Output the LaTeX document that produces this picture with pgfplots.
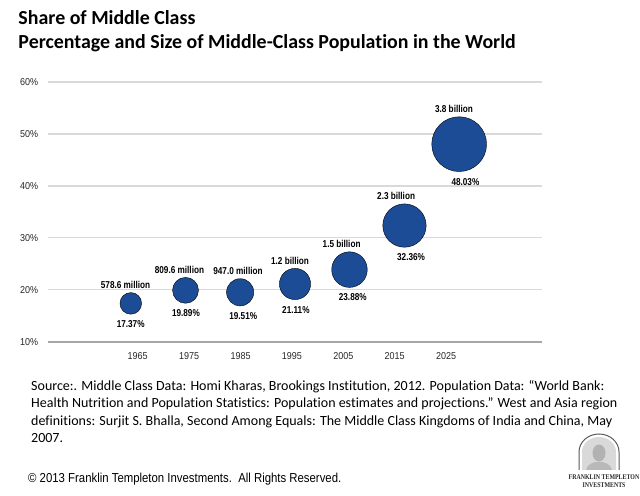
\documentclass[border=0pt]{standalone}
\usepackage{pgfplots}
\pgfplotsset{compat=1.18}
\usepackage{pgfplotstable}
\usepackage{fontspec}
\setmainfont{Liberation Sans}
\newfontfamily\calibri[Ligatures=NoCommon]{Carlito}
\newfontfamily\arialn[FakeStretch=0.82]{Liberation Sans}
\newfontfamily\arialt[FakeStretch=0.9]{Liberation Sans}
\newfontfamily\arialc[FakeStretch=0.875]{Liberation Sans}
\newfontfamily\serifb[FakeStretch=0.82]{Liberation Serif}
\definecolor{bub}{RGB}{29,76,151}
\definecolor{gridc}{RGB}{217,217,217}
\definecolor{axc}{RGB}{166,166,166}
\definecolor{txt}{RGB}{38,38,38}

\pgfplotstableread[col sep=comma]{
x,y,r,pop,dxa,dxb
1963.65,17.37,10.85,578.6 million,-5.3,-0.1
1974.3,19.89,13.0,809.6 million,-6.1,0.4
1984.93,19.51,13.65,947.0 million,-2.2,3.1
1995.6,21.11,15.65,1.2 billion,-5.0,0.9
2006.2,23.88,17.85,1.5 billion,-7.9,3.3
2016.9,32.36,21.75,2.3 billion,-8.4,6.6
2027.54,48.03,27.5,3.8 billion,-5.2,6.3
}\datatable

\begin{document}
\begin{tikzpicture}[x=1bp,y=1bp]
\path (0,0) rectangle (640,496);
% title
\node[anchor=base west, inner sep=0, font=\calibri\bfseries\fontsize{19.9bp}{24bp}\selectfont] at (18.3,471) {Share of Middle Class};
\node[anchor=base west, inner sep=0, font=\calibri\bfseries\fontsize{19.9bp}{24bp}\selectfont] at (18.3,447.7) {Percentage and Size of Middle-Class Population in the World};

\begin{axis}[
  at={(48.3bp,154.3bp)}, anchor=south west,
  scale only axis, width=493.4bp, height=259.7bp,
  xmin=1947.6, xmax=2043.6, ymin=10, ymax=60,
  axis x line*=bottom, axis y line*=left,
  y axis line style={draw=none},
  x axis line style={draw=axc, line width=2bp},
  ymajorgrids, major grid style={draw=gridc, line width=1.3bp},
  tick style={draw=none},
  xtick={1965,1975,1985,1995,2005,2015,2025},
  xticklabels={1965,1975,1985,1995,2005,2015,2025},
  ytick={10,20,30,40,50,60},
  yticklabels={10\%,20\%,30\%,40\%,50\%,60\%},
  every tick label/.append style={font=\arialt\fontsize{10bp}{12bp}\selectfont, text=txt, inner sep=0},
  every x tick label/.append style={anchor=base, yshift=-17.9bp},
  every y tick label/.append style={anchor=east, xshift=-10bp},
  /pgf/number format/assume math mode=true,
  clip=false,
]
\addplot[scatter, only marks, mark=*,
  point meta=\thisrow{r},
  visualization depends on={\thisrow{r} \as \rr},
  scatter/use mapped color={draw=none, fill=bub},
  scatter/@pre marker code/.append style={/tikz/mark size=\rr},
] table[x=x, y=y]{\datatable};

\addplot[only marks, mark=none,
  point meta=explicit symbolic,
  nodes near coords,
  visualization depends on={\thisrow{r} \as \rr},
  visualization depends on={\thisrow{dxa} \as \dxa},
  every node near coord/.append style={anchor=base, inner sep=0, text=black,
     font=\arialn\bfseries\fontsize{10bp}{12bp}\selectfont,
     xshift=\dxa, yshift=\rr+4},
] table[x=x, y=y, meta=pop]{\datatable};

\addplot[only marks, mark=none,
  point meta=y,
  nodes near coords={\pgfmathprintnumber[fixed, fixed zerofill, precision=2]{\pgfplotspointmeta}\%},
  visualization depends on={\thisrow{r} \as \rr},
  visualization depends on={\thisrow{dxb} \as \dxb},
  every node near coord/.append style={anchor=base, inner sep=0, text=black,
     font=\arialn\bfseries\fontsize{10bp}{12bp}\selectfont,
     xshift=\dxb, yshift=-\rr-13.6},
] table[x=x, y=y]{\datatable};
\end{axis}

% source text
\begin{scope}[every node/.style={anchor=base west, inner sep=0, font=\calibri\fontsize{14bp}{16bp}\selectfont}]
\node at (31,105.75) {Source:. Middle Class Data: Homi Kharas, Brookings Institution, 2012. Population Data: “World Bank:};
\node at (31,88.25) {Health Nutrition and Population Statistics: Population estimates and projections.” West and Asia region};
\node at (31,70.75) {definitions: Surjit S. Bhalla, Second Among Equals: The Middle Class Kingdoms of India and China, May};
\node at (31,53.25) {2007.};
\end{scope}
\node[anchor=base west, inner sep=0, font=\arialc\fontsize{13bp}{16bp}\selectfont] at (28,13.3) {© 2013 Franklin Templeton Investments.\ \ All Rights Reserved.};

% logo
\fill[gray!30] (582,26) -- (582,44) arc[start angle=180, end angle=0, x radius=17, y radius=15] -- (616,26) -- cycle;
\draw[gray!70!black, line width=1pt] (579,26) -- (579,44) arc[start angle=180, end angle=0, x radius=20, y radius=18] -- (619,26);
\fill[gray!60] (599,43) ellipse[x radius=6.5, y radius=8.5];
\fill[gray!55] (586,26) .. controls (588,37) and (610,37) .. (612,26) -- cycle;
\node[anchor=base, inner sep=0, font=\serifb\bfseries\fontsize{7.2bp}{8bp}\selectfont, text=black!85] at (604,16.5) {FRANKLIN TEMPLETON};
\node[anchor=base, inner sep=0, font=\serifb\bfseries\fontsize{7.2bp}{8bp}\selectfont, text=black!85] at (604,8.3) {INVESTMENTS};
\end{tikzpicture}
\end{document}
